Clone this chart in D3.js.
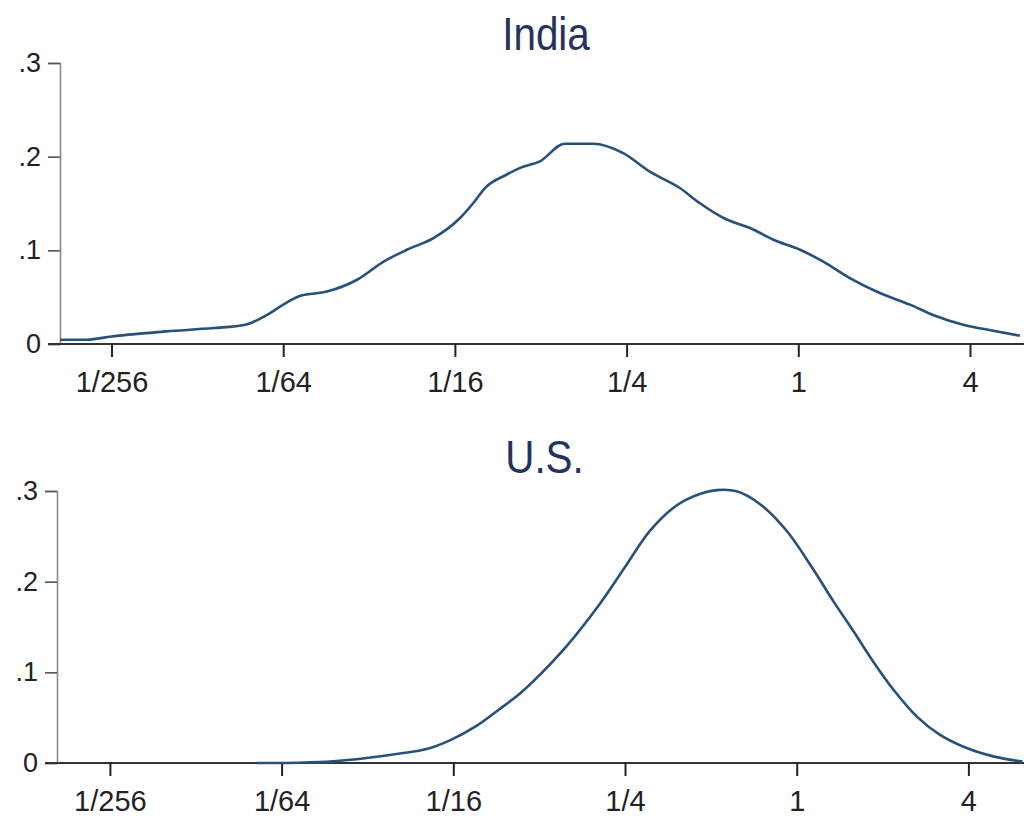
<!DOCTYPE html>
<html>
<head>
<meta charset="utf-8">
<script src="https://cdn.jsdelivr.net/npm/d3@7"></script>
<style>
  html, body { margin: 0; padding: 0; background: #ffffff; }
  svg { display: block; }
  text { font-family: "Liberation Sans", Arial, sans-serif; }
</style>
</head>
<body>
<svg id="chart" width="1024" height="818"></svg>
<script>
// ---- Data (x stored as log2 of income relative to mean, y = density) ----
const xTickValues = [1/256, 1/64, 1/16, 1/4, 1, 4];
const xTickLabels = ["1/256", "1/64", "1/16", "1/4", "1", "4"];
const yTickValues = [0, 0.1, 0.2, 0.3];
const yTickLabels = ["0", ".1", ".2", ".3"];
const panelTitles = ["India", "U.S."];

const indiaLog2X = [-8.60, -8.29, -8.00, -7.36, -6.81, -6.44, -6.19, -6.00, -5.80, -5.49, -5.14, -4.83, -4.56, -4.25, -3.94, -3.79, -3.65, -3.40, -3.24, -3.01, -2.72, -2.39, -2.04, -1.73, -1.38, -1.15, -0.87, -0.52, -0.29, 0.02, 0.29, 0.60, 0.95, 1.30, 1.57, 1.92, 2.27, 2.58];
const indiaDensity = [0.0045, 0.0046, 0.0080, 0.0135, 0.0170, 0.0206, 0.0310, 0.0420, 0.0515, 0.0560, 0.0686, 0.0880, 0.1006, 0.1130, 0.1345, 0.1500, 0.1665, 0.1807, 0.1880, 0.1950, 0.2138, 0.2138, 0.2038, 0.1840, 0.1665, 0.1505, 0.1345, 0.1220, 0.1113, 0.1006, 0.0880, 0.0704, 0.0544, 0.0420, 0.0310, 0.0206, 0.0142, 0.0089];

const usLog2X = [-6.29, -5.79, -5.40, -5.01, -4.62, -4.31, -4.04, -3.73, -3.46, -3.22, -3.07, -2.68, -2.29, -1.98, -1.71, -1.40, -1.13, -0.93, -0.70, -0.43, -0.12, 0.19, 0.43, 0.66, 0.89, 1.13, 1.40, 1.67, 1.98, 2.29, 2.63];
const usDensity = [0.0000, 0.0003, 0.0018, 0.0055, 0.0105, 0.0154, 0.0250, 0.0410, 0.0595, 0.0770, 0.0900, 0.1290, 0.1760, 0.2190, 0.2560, 0.2840, 0.2967, 0.3010, 0.2996, 0.2857, 0.2564, 0.2140, 0.1780, 0.1455, 0.1120, 0.0805, 0.0512, 0.0310, 0.0165, 0.0073, 0.0015];

// ---- Layout ----
const svg = d3.select("#chart");
const panels = [
  { title: panelTitles[0], lx: indiaLog2X, ys: indiaDensity, smooth: false,
    left: 60, right: 1024, y0: 344, yTop: 63, xAt1: 798.3, titleY: 50 },
  { title: panelTitles[1], lx: usLog2X, ys: usDensity, smooth: true,
    left: 57, right: 1024, y0: 763, yTop: 491, xAt1: 796.7, titleY: 473 }
];
const pxPerLog2 = 85.85;
const lineColor = "#27507a";
const titleColor = "#26325e";

panels.forEach(p => {
  const dMin = Math.pow(2, (p.left - p.xAt1) / pxPerLog2);
  const dMax = Math.pow(2, (p.right - p.xAt1) / pxPerLog2);
  const x = d3.scaleLog().base(2).domain([dMin, dMax]).range([p.left, p.right]);
  const y = d3.scaleLinear().domain([0, 0.3]).range([p.y0, p.yTop]);

  const g = svg.append("g");

  // Title
  const cx = (p.left + p.right) / 2 + 4;
  g.append("text")
    .attr("transform", `translate(${cx},${p.titleY}) scale(0.86,1)`)
    .attr("text-anchor", "middle")
    .attr("font-size", 47)
    .attr("fill", titleColor)
    .text(p.title);

  // Y axis
  const yAxis = d3.axisLeft(y)
    .tickValues(yTickValues)
    .tickFormat((d, i) => yTickLabels[i])
    .tickSize(12)
    .tickPadding(7);
  const ya = g.append("g").attr("transform", `translate(${p.left},0)`).call(yAxis);
  ya.select(".domain").attr("stroke", "#8a8a8a").attr("stroke-width", 1.6);
  ya.selectAll(".tick line").attr("stroke", "#555").attr("stroke-width", 1.6);
  ya.selectAll(".tick text")
    .attr("font-size", 27)
    .attr("fill", "#222")
    .attr("font-family", "Liberation Sans, Arial, sans-serif");

  // X axis
  const xAxis = d3.axisBottom(x)
    .tickValues(xTickValues)
    .tickFormat((d, i) => xTickLabels[i])
    .tickSize(13)
    .tickSizeOuter(0)
    .tickPadding(14);
  const xa = g.append("g").attr("transform", `translate(0,${p.y0})`).call(xAxis);
  xa.select(".domain").attr("stroke", "#333").attr("stroke-width", 2.2)
    .attr("d", `M${p.left - 12},0H${p.right}`);
  xa.selectAll(".tick line").attr("stroke", "#222").attr("stroke-width", 2);
  xa.selectAll(".tick text")
    .attr("font-size", 29)
    .attr("fill", "#222")
    .attr("font-family", "Liberation Sans, Arial, sans-serif");

  // Curve
  const pts = p.lx.map((l, i) => [Math.pow(2, l), p.ys[i]]);
  const line = d3.line()
    .x(d => x(d[0]))
    .y(d => y(d[1]))
    .curve(p.smooth ? d3.curveCatmullRom.alpha(0.5) : d3.curveMonotoneX);
  g.append("path")
    .datum(pts)
    .attr("d", line)
    .attr("fill", "none")
    .attr("stroke", lineColor)
    .attr("stroke-width", 2.6)
    .attr("stroke-linejoin", "round");
});
</script>
</body>
</html>
